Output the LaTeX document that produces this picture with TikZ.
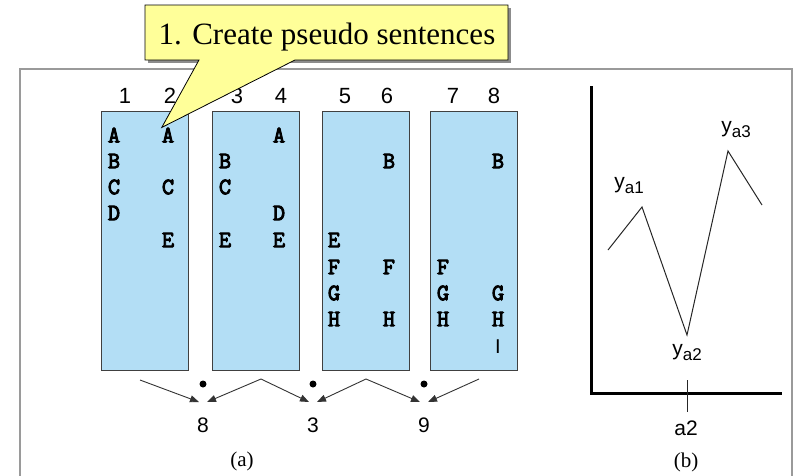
\documentclass[tikz,border=0pt]{standalone}
\usepackage{fontspec}
\setmainfont{Liberation Serif}
\setsansfont{Liberation Sans}
\newfontfamily\letterfont{Latin Modern Mono}[FakeBold=4]
\usetikzlibrary{arrows.meta}
\definecolor{boxblue}{HTML}{B3DEF5}
\definecolor{callyellow}{HTML}{FFFF99}
\definecolor{framegray}{HTML}{9A9A9A}
\tikzset{
  colbox/.style={draw=black!75, fill=boxblue, line width=1pt, minimum width=87pt, minimum height=259pt, anchor=north west, inner sep=0},
  colnum/.style={font=\sffamily\fontsize{22}{22}\selectfont, inner sep=0},
  letter/.style={font=\letterfont\fontsize{23.5}{23.5}\selectfont, inner sep=0},
  result/.style={font=\sffamily\fontsize{21}{21}\selectfont, inner sep=0},
  caption/.style={font=\rmfamily\fontsize{21}{21}\selectfont, inner sep=0},
  ylab/.style={font=\sffamily\fontsize{21}{21}\selectfont, inner sep=0},
  conn/.style={draw=black!80, line width=0.9pt, -{Triangle[length=9pt,width=7pt]}},
  dotn/.style={circle, fill=black, inner sep=0, minimum size=7pt},
}
\newcommand{\ysub}[1]{y\raisebox{-0.45ex}{\fontsize{17}{17}\selectfont #1}}
\begin{document}
\begin{tikzpicture}[x=1pt,y=-1pt]
\useasboundingbox (0,0) rectangle (795,475);
% frame
\draw[framegray, line width=1.5pt] (20,476) -- (20,69) -- (792,69) -- (792,476);
% column boxes
\node[colbox] (b1) at (101,111) {};
\node[colbox] (b2) at (212,111) {};
\node[colbox] (b3) at (322,111) {};
\node[colbox] (b4) at (430,111) {};
% column numbers
\node[colnum] (n1) at (125,96) {1};
\node[colnum] (n2) at (170,96) {2};
\node[colnum] (n3) at (237,96) {3};
\node[colnum] (n4) at (281,96) {4};
\node[colnum] (n5) at (345,96) {5};
\node[colnum] (n6) at (387,96) {6};
\node[colnum] (n7) at (453,96) {7};
\node[colnum] (n8) at (494,96) {8};
% letters column 1
\node[letter] (l1a) at (114,135) {A};
\node[letter] (l1b) at (114,161) {B};
\node[letter] (l1c) at (114,187) {C};
\node[letter] (l1d) at (114,213) {D};
% column 2
\node[letter] (l2a) at (168,135) {A};
\node[letter] (l2c) at (168,187) {C};
\node[letter] (l2e) at (168,240) {E};
% column 3
\node[letter] (l3b) at (225,161) {B};
\node[letter] (l3c) at (225,187) {C};
\node[letter] (l3e) at (225,240) {E};
% column 4
\node[letter] (l4a) at (279,135) {A};
\node[letter] (l4d) at (279,213) {D};
\node[letter] (l4e) at (279,240) {E};
% column 5
\node[letter] (l5e) at (334,240) {E};
\node[letter] (l5f) at (334,267) {F};
\node[letter] (l5g) at (334,293) {G};
\node[letter] (l5h) at (334,319) {H};
% column 6
\node[letter] (l6b) at (389,161) {B};
\node[letter] (l6f) at (389,267) {F};
\node[letter] (l6h) at (389,319) {H};
% column 7
\node[letter] (l7f) at (443,267) {F};
\node[letter] (l7g) at (443,293) {G};
\node[letter] (l7h) at (443,319) {H};
% column 8
\node[letter] (l8b) at (498,161) {B};
\node[letter] (l8g) at (498,293) {G};
\node[letter] (l8h) at (498,319) {H};
\node[font=\sffamily\fontsize{20}{20}\selectfont, inner sep=0] (l8i) at (498,347) {I};
% dots and results
\node[dotn] (d1) at (203,384) {};
\node[dotn] (d2) at (313,384) {};
\node[dotn] (d3) at (424,384) {};
\node[result] (r1) at (203,425) {8};
\node[result] (r2) at (313,425) {3};
\node[result] (r3) at (424,425) {9};
\coordinate (s1) at (140,380);
\coordinate (p1) at (261,379);
\coordinate (p2) at (366,379);
\coordinate (s2) at (479,379);
\coordinate (t1a) at (199,402);
\coordinate (t1b) at (207,402);
\coordinate (t2a) at (309,402);
\coordinate (t2b) at (317,402);
\coordinate (t3a) at (420,402);
\coordinate (t3b) at (428,402);
\draw[conn] (s1) -- (t1a);
\draw[conn] (p1) -- (t1b);
\draw[conn] (p1) -- (t2a);
\draw[conn] (p2) -- (t2b);
\draw[conn] (p2) -- (t3a);
\draw[conn] (s2) -- (t3b);
\node[caption] (capa) at (242,461) {(a)};
% right panel
\coordinate (ytop) at (591,87);
\coordinate (orig) at (591,393);
\coordinate (xend) at (780,393);
\draw[line width=3pt, line cap=rect] (ytop) -- (orig) -- (xend);
\coordinate (q0) at (608,250);
\coordinate (q1) at (642,207);
\coordinate (q2) at (687,335);
\coordinate (q3) at (728,151);
\coordinate (q4) at (762,205);
\draw[black!85, line width=1pt] (q0) -- (q1) -- (q2) -- (q3) -- (q4);
\coordinate (tk1) at (687,380);
\coordinate (tk2) at (687,412);
\draw[black!85, line width=1pt] (tk1) -- (tk2);
\node[ylab] (ya1) at (629,186) {\ysub{a1}};
\node[ylab] (ya2) at (687,353) {\ysub{a2}};
\node[ylab] (ya3) at (736,130) {\ysub{a3}};
\node[ylab] (xa2) at (686,428) {a2};
\node[caption] (capb) at (686,462) {(b)};
% callout
\fill[black!45] (148,8) -- (511,8) -- (511,63) -- (148,63) -- cycle;
\draw[black, line width=0.8pt, fill=callyellow, line join=miter]
  (145,5) -- (508,5) -- (508,60) -- (295,60) -- (l2a.north west) -- (199,60) -- (145,60) -- cycle;
\node[font=\rmfamily\fontsize{31}{31}\selectfont, inner sep=0] (callout) at (327,37) {1. Create pseudo sentences};
\end{tikzpicture}
\end{document}
